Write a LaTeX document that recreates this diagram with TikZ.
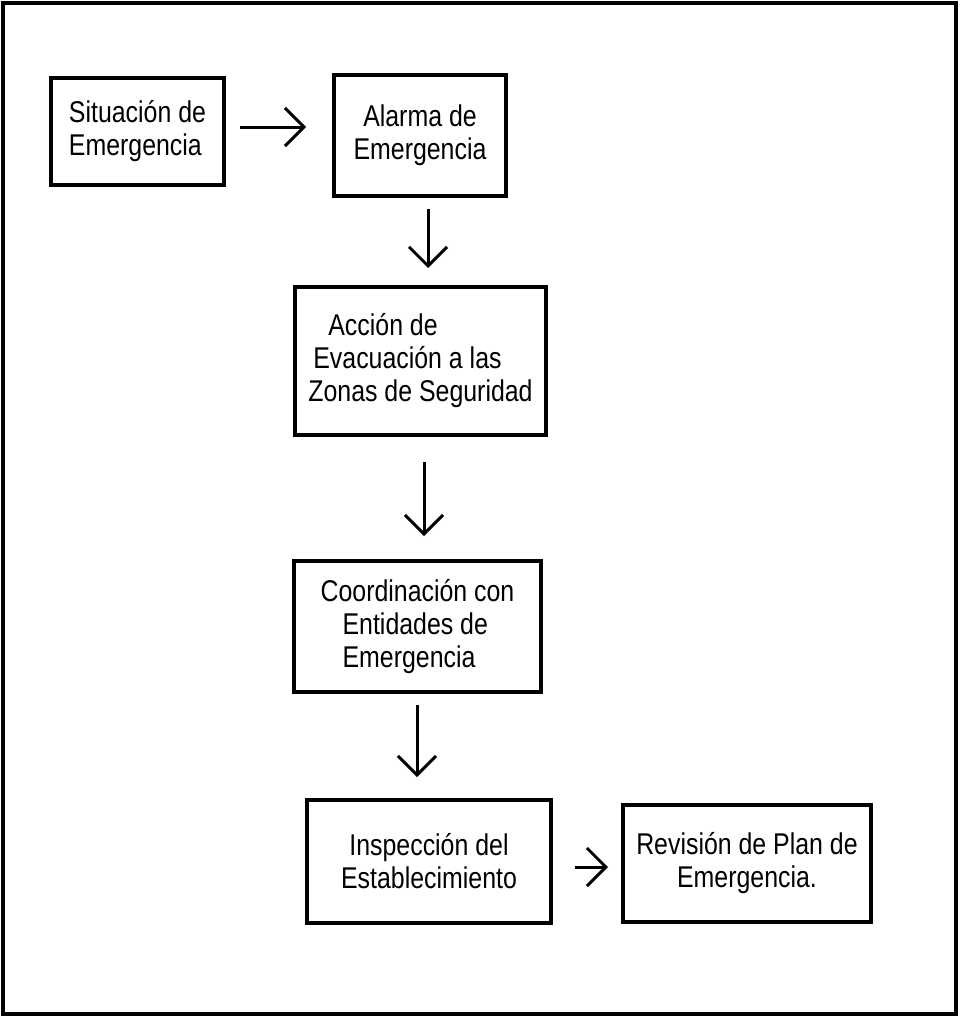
\documentclass[tikz,border=0pt]{standalone}
\usepackage{fontspec}
\setmainfont{Liberation Sans}[FakeStretch=0.83]
\usetikzlibrary{arrows.meta}

\tikzset{
    box/.style={draw, line width=4pt, rectangle, inner sep=0pt,
        font=\fontsize{30}{33}\selectfont},
    flow/.style={line width=3pt, -{Straight Barb[length=19pt,width=38pt,line width=3pt]}}
}

\begin{document}
\begin{tikzpicture}[x=1pt, y=-1pt]
        \useasboundingbox (0,0) rectangle (959,1017);
        % Frame
        \draw[line width=4.5pt] (3,3) rectangle (956,1014);

        % Boxes
        \node[box, minimum width=173pt, minimum height=107pt, align=left] (sit) at (137.5,131.5)
            {Situación de\\Emergencia};
        \node[box, minimum width=172pt, minimum height=121pt, align=center] (alarma) at (420,135.5)
            {Alarma de\\Emergencia};
        \node[box, minimum width=251pt, minimum height=148pt, align=left] (accion) at (420.5,361)
            {\hspace{20pt}Acción de\\\hspace{5pt}Evacuación a las\\Zonas de Seguridad};
        \node[box, minimum width=247pt, minimum height=131pt, align=left] (coord) at (417.5,626.5)
            {Coordinación con\\\hspace{22pt}Entidades de\\\hspace{22pt}Emergencia};
        \node[box, minimum width=244pt, minimum height=123pt, align=center] (insp) at (429,861.5)
            {Inspección del\\Establecimiento};
        \node[box, minimum width=248pt, minimum height=117pt, align=center] (rev) at (747,863.5)
            {Revisión de Plan de\\Emergencia.};

        % Arrows
        \draw[flow] ([xshift=14pt,yshift=4.5pt]sit.east) -- ([xshift=-26pt,yshift=8.5pt]alarma.west);
        \draw[flow] ([xshift=8pt,yshift=-11pt]alarma.south) -- ([xshift=7.5pt,yshift=17pt]accion.north);
        \draw[flow] ([xshift=3.5pt,yshift=-25pt]accion.south) -- ([xshift=6.5pt,yshift=23pt]coord.north);
        \draw[flow] ([xshift=-0.5pt,yshift=-11pt]coord.south) -- ([xshift=-12pt,yshift=21pt]insp.north);
        \draw[flow] ([xshift=22pt,yshift=-5.5pt]insp.east) -- ([xshift=-13pt,yshift=-3.5pt]rev.west);

    \end{tikzpicture}
\end{document}
